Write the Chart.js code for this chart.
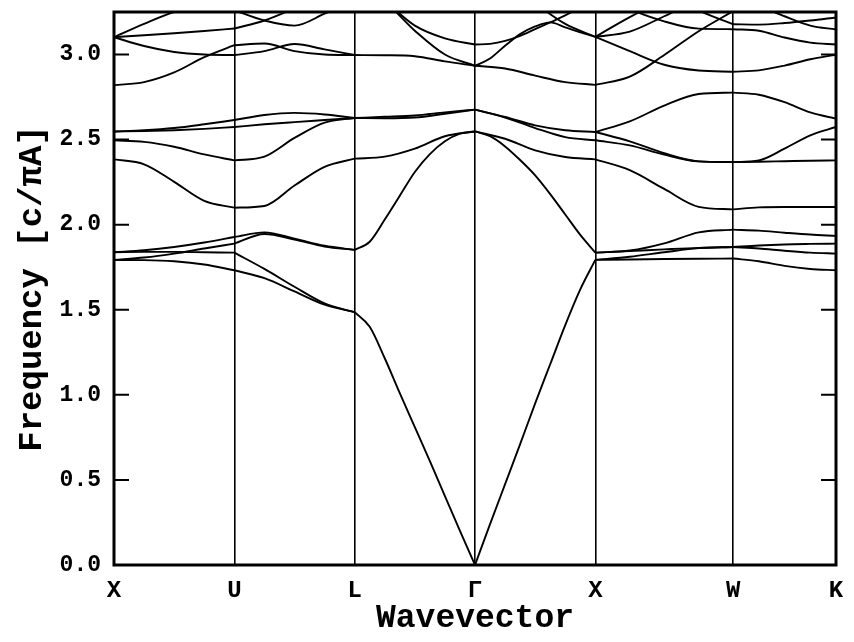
<!DOCTYPE html>
<html>
<head>
<meta charset="utf-8">
<script src="https://cdn.jsdelivr.net/npm/chart.js@4/dist/chart.umd.min.js"></script>
<style>
    html, body { margin: 0; background: #fff; }
    #wrap { width: 854px; height: 642px; }
</style>
</head>
<body>
<div id="wrap"><canvas id="bandChart"></canvas></div>
<script>
// high symmetry points along the path
const kLabels = ['X', 'U', 'L', 'Γ', 'X', 'W', 'K'];
const kTicks = [0, 1, 2, 3, 4, 5.145, 6];
const freqTicks = [0, 0.5, 1.0, 1.5, 2.0, 2.5, 3.0];

// every band below is sampled at evenly spaced points across its segment

// X -> U
const bandsXU = [
    [3.102, 3.18, 3.25, 3.28, 3.26],
    [3.102, 3.113, 3.125, 3.138, 3.153],
    [3.102, 3.05, 3.015, 3.0, 2.997],
    [2.820, 2.838, 2.895, 2.985, 3.055],
    [2.548, 2.555, 2.568, 2.590, 2.615],
    [2.548, 2.550, 2.555, 2.563, 2.574],
    [2.496, 2.487, 2.458, 2.413, 2.378],
    [2.384, 2.355, 2.252, 2.14, 2.10],
    [1.838, 1.850, 1.869, 1.895, 1.928],
    [1.793, 1.807, 1.830, 1.860, 1.889],
    [1.838, 1.840, 1.840, 1.838, 1.836],
    [1.793, 1.792, 1.785, 1.766, 1.732]
];

// U -> L
const bandsUL = [
    [3.26, 3.20, 3.17, 3.24, 3.32],
    [3.153, 3.20, 3.27, 3.33, 3.36],
    [2.997, 3.02, 3.062, 3.03, 2.997],
    [3.055, 3.065, 3.02, 3.0, 2.997],
    [2.615, 2.645, 2.657, 2.648, 2.627],
    [2.574, 2.590, 2.603, 2.615, 2.627],
    [2.378, 2.40, 2.51, 2.60, 2.627],
    [2.10, 2.11, 2.23, 2.34, 2.388],
    [1.928, 1.955, 1.918, 1.876, 1.852],
    [1.889, 1.945, 1.913, 1.872, 1.852],
    [1.836, 1.74, 1.635, 1.537, 1.486],
    [1.732, 1.686, 1.608, 1.530, 1.486]
];

// L -> Gamma
const bandsLG = [
    [3.40, 3.31, 3.17, 3.095, 3.059],
    [3.40, 3.31, 3.14, 3.0, 2.934],
    [2.997, 2.996, 2.99, 2.96, 2.934],
    [2.627, 2.634, 2.642, 2.660, 2.676],
    [2.627, 2.626, 2.630, 2.652, 2.676],
    [2.388, 2.40, 2.447, 2.52, 2.548],
    [1.852, 1.90, 2.03, 2.17, 2.31, 2.415, 2.49, 2.535, 2.548],
    [1.486, 1.40, 1.215, 1.01, 0.81, 0.61, 0.405, 0.20, 0]
];

// Gamma -> X
const bandsGX = [
    [3.059, 3.063, 3.08, 3.11, 3.15, 3.189, 3.23, 3.28, 3.35],
    [2.934, 2.977, 3.052, 3.12, 3.165, 3.189, 3.16, 3.13, 3.104],
    [3.50, 3.42, 3.30, 3.18, 3.104],
    [2.934, 2.918, 2.876, 2.838, 2.822],
    [2.676, 2.633, 2.584, 2.555, 2.545],
    [2.676, 2.630, 2.568, 2.515, 2.496],
    [2.548, 2.505, 2.437, 2.398, 2.384],
    [2.548, 2.52, 2.46, 2.38, 2.29, 2.18, 2.06, 1.94, 1.836],
    [0, 0.24, 0.475, 0.71, 0.95, 1.18, 1.41, 1.62, 1.793]
];

// X -> W
const bandsXW = [
    [3.104, 3.22, 3.32, 3.40, 3.45],
    [3.104, 3.135, 3.225, 3.32, 3.40],
    [3.104, 3.02, 2.94, 2.906, 2.899],
    [2.822, 2.87, 2.997, 3.137, 3.255],
    [3.40, 3.27, 3.195, 3.152, 3.149],
    [3.60, 3.50, 3.38, 3.26, 3.178],
    [2.545, 2.607, 2.70, 2.768, 2.776],
    [2.545, 2.49, 2.42, 2.372, 2.368],
    [2.496, 2.466, 2.412, 2.372, 2.368],
    [2.384, 2.32, 2.21, 2.105, 2.09],
    [1.836, 1.848, 1.89, 1.955, 1.971],
    [1.836, 1.845, 1.855, 1.864, 1.869],
    [1.793, 1.812, 1.838, 1.862, 1.869],
    [1.793, 1.795, 1.798, 1.800, 1.801]
];

// W -> K
const bandsWK = [
    [3.255, 3.30, 3.35, 3.40, 3.42],
    [3.178, 3.176, 3.185, 3.20, 3.218],
    [3.38, 3.29, 3.225, 3.17, 3.147],
    [3.149, 3.14, 3.10, 3.07, 3.059],
    [2.899, 2.907, 2.935, 2.972, 2.999],
    [2.776, 2.764, 2.72, 2.66, 2.623],
    [2.368, 2.378, 2.447, 2.525, 2.574],
    [2.368, 2.37, 2.373, 2.376, 2.378],
    [2.09, 2.102, 2.104, 2.104, 2.104],
    [1.971, 1.965, 1.953, 1.942, 1.934],
    [1.869, 1.878, 1.884, 1.887, 1.889],
    [1.869, 1.86, 1.847, 1.836, 1.830],
    [1.801, 1.785, 1.758, 1.740, 1.732]
];

const segments = [bandsXU, bandsUL, bandsLG, bandsGX, bandsXW, bandsWK];

function buildDatasets() {
    const datasets = [];
    segments.forEach((bands, s) => {
        const k0 = kTicks[s];
        const k1 = kTicks[s + 1];
        bands.forEach(band => {
            const n = band.length - 1;
            datasets.push({
                data: band.map((f, j) => ({ x: k0 + (j / n) * (k1 - k0), y: f })),
                borderColor: '#000',
                borderWidth: 1.9,
                pointRadius: 0,
                fill: false,
                cubicInterpolationMode: 'monotone',
                clip: 0
            });
        });
    });
    return datasets;
}

// thick frame and inward ticks on both sides
const framePlugin = {
    id: 'frame',
    afterDatasetsDraw(chart) {
        const { ctx, chartArea: a, scales: { y } } = chart;
        ctx.save();
        ctx.strokeStyle = '#000';
        ctx.lineWidth = 2;
        y.ticks.forEach(t => {
            const py = y.getPixelForValue(t.value);
            ctx.beginPath();
            ctx.moveTo(a.left, py);
            ctx.lineTo(a.left + 15, py);
            ctx.moveTo(a.right, py);
            ctx.lineTo(a.right - 15, py);
            ctx.stroke();
        });
        ctx.lineWidth = 3;
        ctx.strokeRect(a.left, a.top, a.right - a.left, a.bottom - a.top);
        ctx.restore();
    }
};

Chart.defaults.font.family = "'Liberation Mono', monospace";
Chart.defaults.font.weight = 'bold';
Chart.defaults.color = '#000';

new Chart(document.getElementById('bandChart'), {
    type: 'line',
    data: { datasets: buildDatasets() },
    options: {
        animation: false,
        responsive: true,
        maintainAspectRatio: false,
        layout: { padding: { top: 12, right: 18, left: 0, bottom: 0 } },
        plugins: {
            legend: { display: false },
            tooltip: { enabled: false }
        },
        scales: {
            x: {
                type: 'linear',
                min: 0,
                max: 6,
                afterBuildTicks: s => { s.ticks = kTicks.map(v => ({ value: v })); },
                afterFit: s => { s.height = 77; s.paddingLeft = 0; s.paddingRight = 0; },
                ticks: {
                    callback: (v, i) => kLabels[i],
                    padding: 12,
                    autoSkip: false,
                    maxRotation: 0,
                    font: { size: 24 }
                },
                grid: { color: '#000', lineWidth: 1.6, drawTicks: false },
                border: { display: false },
                title: { display: true, text: 'Wavevector', font: { size: 33 }, padding: { top: 0, bottom: 4 } }
            },
            y: {
                min: 0,
                max: 3.25,
                afterBuildTicks: s => { s.ticks = freqTicks.map(v => ({ value: v })); },
                afterFit: s => { s.width = 114; s.paddingTop = 0; s.paddingBottom = 0; },
                ticks: {
                    callback: v => v.toFixed(1),
                    padding: 13,
                    font: { size: 23 }
                },
                grid: { display: false, drawTicks: false },
                border: { display: false },
                title: { display: true, text: 'Frequency [c/πA]', font: { size: 34 }, padding: { top: 12 } }
            }
        }
    },
    plugins: [framePlugin]
});
</script>
</body>
</html>
